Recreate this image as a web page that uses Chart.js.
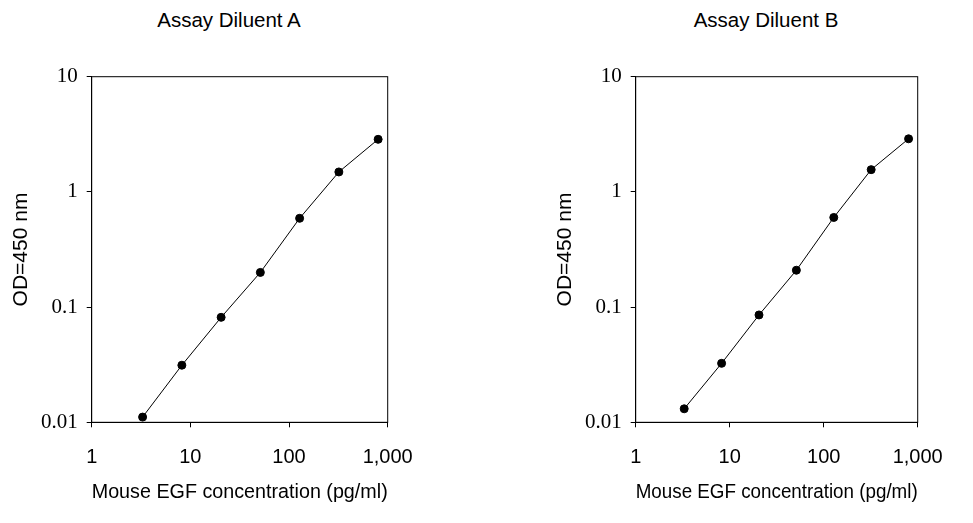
<!DOCTYPE html>
<html><head><meta charset="utf-8">
<script src="https://cdn.jsdelivr.net/npm/chart.js"></script>
<style>
body{margin:0;width:973px;height:523px;background:#fff;position:relative;overflow:hidden;font-family:"Liberation Sans",Arial,sans-serif}
canvas{position:absolute;top:0}
.t{position:absolute;top:8px;font-size:20.5px;color:#000;transform:translateX(-50%);white-space:nowrap}
</style></head><body>
<div class="t" style="left:229px">Assay Diluent A</div>
<div class="t" style="left:766px">Assay Diluent B</div>
<div style="position:absolute;left:0;top:0;width:486px;height:523px"><canvas id="a"></canvas></div>
<div style="position:absolute;left:486px;top:0;width:487px;height:523px"><canvas id="b"></canvas></div>
<script>
const concentrations = [3.28, 8.2, 20.5, 51.2, 128, 320, 800];
const odDiluentA = [0.0111, 0.0313, 0.0815, 0.200, 0.59, 1.49, 2.86];
const odDiluentB = [0.0131, 0.0325, 0.0855, 0.209, 0.60, 1.56, 2.89];
const xTicks = [1, 10, 100, 1000];
const yTicks = [0.01, 0.1, 1, 10];

const boxPlugin = {id:'box', afterDraw(c){const a=c.chartArea,x=c.ctx;x.save();x.strokeStyle='#000';x.lineWidth=1;x.strokeRect(a.left,a.top,a.right-a.left,a.bottom-a.top);x.restore();}};

function make(id, vals, padLeft, padRight){
  new Chart(document.getElementById(id), {
    type:'line',
    data:{datasets:[{data:concentrations.map((c,i)=>({x:c,y:vals[i]})),borderColor:'#000',borderWidth:1,
      pointBackgroundColor:'#000',pointBorderColor:'#000',pointRadius:4,tension:0}]},
    options:{responsive:false,animation:false,devicePixelRatio:1,
      layout:{padding:{left:padLeft,right:padRight,top:76.7,bottom:0.7}},
      plugins:{legend:{display:false},tooltip:{enabled:false}},
      scales:{
        x:{type:'logarithmic',min:1,max:1000,
          afterBuildTicks:s=>{s.ticks=xTicks.map(v=>({value:v}));},
          afterFit:s=>{s.height=100;},
          grid:{drawOnChartArea:false,tickLength:5,color:'#000'},border:{color:'#000'},
          ticks:{color:'#000',padding:18,maxRotation:0,font:{family:'"Liberation Sans", Arial',size:20},callback:v=>v.toLocaleString('en-US')},
          title:{display:true,text:'Mouse EGF concentration (pg/ml)',color:'#000',font:{family:'"Liberation Sans", Arial',size:20.5},padding:{top:0,bottom:18}}},
        y:{type:'logarithmic',min:0.01,max:10,
          afterBuildTicks:s=>{s.ticks=yTicks.map(v=>({value:v}));},
          afterFit:s=>{s.width=91.7;},
          grid:{drawOnChartArea:false,tickLength:5,color:'#000'},border:{color:'#000'},
          ticks:{color:'#000',padding:9,font:{family:'"Liberation Serif", "Times New Roman"',size:21},callback:v=>String(v)},
          title:{display:true,text:'OD=450 nm',color:'#000',font:{family:'"Liberation Sans", Arial',size:21},padding:{top:9,bottom:0}}}
      }},
    plugins:[boxPlugin]
  });
}
document.getElementById('a').width=486;document.getElementById('a').height=523;
document.getElementById('b').width=487;document.getElementById('b').height=523;
make('a', odDiluentA, 0, 98.3);
make('b', odDiluentB, 58, 55.3);
</script></body></html>
